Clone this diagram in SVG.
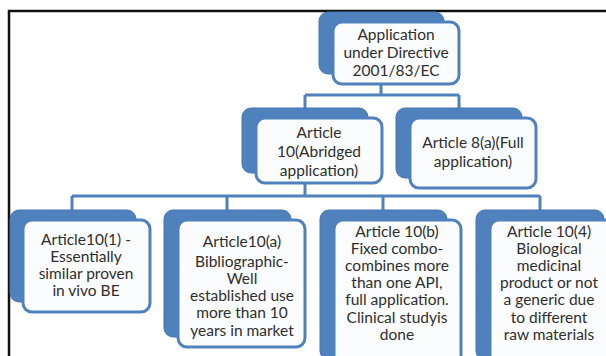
<svg xmlns="http://www.w3.org/2000/svg" width="606" height="356" viewBox="0 0 606 356">
<style>
.bk{fill:#4f81bd;stroke:#4677b3;stroke-width:1}
.fr{fill:#fbfcfe;stroke:#4f81bd;stroke-width:3}
.t{font-family:Lato,"Open Sans","DejaVu Sans",sans-serif;font-size:15.5px;fill:#2e2e2e;text-anchor:middle}
.c{fill:none;stroke:#4f81bd;stroke-width:3}
</style>
<rect width="606" height="356" fill="#ffffff"/>
<path d="M9 356V11H606" fill="none" stroke="#111" stroke-width="2.5"/>
<g id="connectors">
<path class="c" d="M381 84V95M305 95H459M305 95V108M459 95V108"/>
<path class="c" d="M305 183V196M72 196H540M72 196V210M227 196V210M383 196V210M540 196V210"/>
</g>
<g id="n-top">
<rect class="bk" x="319" y="12" width="125" height="62" rx="9"/>
<rect class="fr" x="333" y="22" width="126" height="62" rx="9"/>
<text class="t" x="396" y="40">Application</text>
<text class="t" x="396" y="58">under Directive</text>
<text class="t" x="396" y="76">2001/83/EC</text>
</g>
<g id="n-art10">
<rect class="bk" x="242" y="108" width="126" height="65" rx="9"/>
<rect class="fr" x="256" y="118" width="126" height="65" rx="9"/>
<text class="t" x="319" y="138">Article</text>
<text class="t" x="319" y="157">10(Abridged</text>
<text class="t" x="319" y="176">application)</text>
</g>
<g id="n-art8a">
<rect class="bk" x="396" y="108" width="126" height="70" rx="9"/>
<rect class="fr" x="410" y="118" width="126" height="70" rx="9"/>
<text class="t" x="473" y="148">Article 8(a)(Full</text>
<text class="t" x="473" y="167">application)</text>
</g>
<g id="n-101">
<rect class="bk" x="10" y="210" width="126" height="92" rx="9"/>
<rect class="fr" x="23" y="220" width="127" height="92" rx="9"/>
<text class="t" x="86" y="245">Article10(1) -</text>
<text class="t" x="86" y="262">Essentially</text>
<text class="t" x="86" y="279">similar proven</text>
<text class="t" x="86" y="296">in vivo BE</text>
</g>
<g id="n-10a">
<rect class="bk" x="164" y="210" width="127" height="127" rx="9"/>
<rect class="fr" x="178" y="220" width="127" height="127" rx="9"/>
<text class="t" x="242" y="247">Article10(a)</text>
<text class="t" x="242" y="267">Bibliographic-</text>
<text class="t" x="242" y="284">Well</text>
<text class="t" x="242" y="301">established use</text>
<text class="t" x="242" y="318">more than 10</text>
<text class="t" x="242" y="336">years in market</text>
</g>
<g id="n-10b">
<rect class="bk" x="320" y="210" width="127" height="150" rx="9"/>
<rect class="fr" x="334" y="220" width="127" height="150" rx="9"/>
<text class="t" x="397" y="237">Article 10(b)</text>
<text class="t" x="397" y="254">Fixed combo-</text>
<text class="t" x="397" y="271">combines more</text>
<text class="t" x="397" y="288">than one API,</text>
<text class="t" x="397" y="305">full application.</text>
<text class="t" x="397" y="323">Clinical studyis</text>
<text class="t" x="397" y="340">done</text>
</g>
<g id="n-104">
<rect class="bk" x="476" y="210" width="128" height="150" rx="9"/>
<rect class="fr" x="490" y="220" width="128" height="150" rx="9"/>
<text class="t" x="549" y="237">Article 10(4)</text>
<text class="t" x="549" y="254">Biological</text>
<text class="t" x="549" y="271">medicinal</text>
<text class="t" x="549" y="288">product or not</text>
<text class="t" x="549" y="305">a generic due</text>
<text class="t" x="549" y="323">to different</text>
<text class="t" x="549" y="340">raw materials</text>
</g>
</svg>
